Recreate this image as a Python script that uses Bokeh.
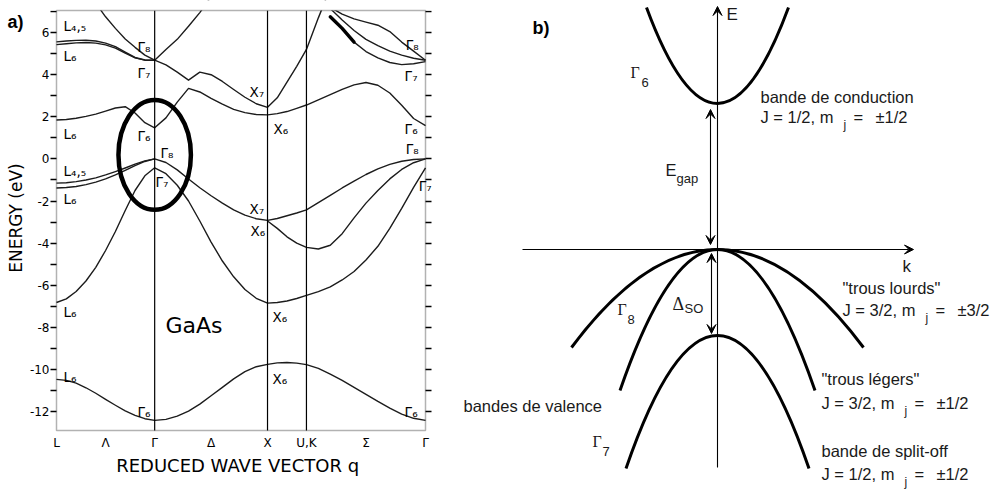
import numpy as np
from bokeh.plotting import figure
from bokeh.layouts import row
from bokeh.models import (Range1d, FixedTicker, LinearAxis, Label, Arrow, VeeHead,
                          BoxAnnotation, CustomJSTickFormatter)
from bokeh.embed import file_html
from bokeh.resources import INLINE

nan = float("nan")

# ---------------- (a) GaAs band structure ----------------
sym_labels = ["L", "Λ", "Γ", "Δ", "X", "U,K", "Σ", "Γ"]
sym_q = [-0.87, -0.435, 0.0, 0.5, 1.0, 1.345, 1.8725, 2.40]
zone_q = [0.0, 1.0, 1.345]
e_ticks = [-12, -10, -8, -6, -4, -2, 0, 2, 4, 6]
e_minor = [-11, -9, -7, -5, -3, -1, 1, 3, 5, 7]
e_min, e_max = -12.9, 7.05          # energy window of the band diagram
seg_points = [11, 11, 5, 11]        # samples along L-Γ, Γ-X, X-U,K, U,K-Γ

# energies (eV) read along L-Γ (11), Γ-X (11), X-U,K (5), U,K-Γ (11)
v1 = [-10.47, -10.52, -10.65, -10.87, -11.13, -11.42, -11.70, -11.97, -12.18, -12.34, -12.42,
      -12.42, -12.37, -12.22, -11.98, -11.65, -11.25, -10.85, -10.45, -10.10, -9.87, -9.76,
      -9.76, -9.69, -9.67, -9.70, -9.77,
      -9.77, -9.95, -10.22, -10.52, -10.85, -11.18, -11.52, -11.84, -12.12, -12.32, -12.42]
v2 = [-6.82, -6.65, -6.30, -5.80, -5.15, -4.35, -3.45, -2.45, -1.50, -0.80, -0.42,
      -0.42, -0.70, -1.25, -2.00, -2.95, -3.95, -4.85, -5.60, -6.20, -6.62, -6.85,
      -6.85, -6.82, -6.75, -6.63, -6.48,
      -6.48, -6.30, -6.08, -5.75, -5.35, -4.80, -4.15, -3.30, -2.35, -1.35, -0.42]
v3 = [-1.15, -1.13, -1.08, -1.00, -0.90, -0.76, -0.60, -0.43, -0.25, -0.09, 0.0,
      0.0, -0.17, -0.52, -0.95, -1.37, -1.75, -2.10, -2.42, -2.67, -2.84, -2.92,
      -2.92, -2.83, -2.70, -2.57, -2.42,
      -2.42, -2.08, -1.73, -1.38, -1.05, -0.74, -0.47, -0.26, -0.11, -0.03, 0.0]
v4 = ([-1.38, -1.36, -1.31, -1.22, -1.10, -0.95, -0.76, -0.54, -0.32, -0.12, 0.0]
      + [nan] * 11
      + [-2.95, -3.30, -3.70, -4.00, -4.20]
      + [-4.20, -4.28, -4.10, -3.55, -2.80, -2.10, -1.50, -0.95, -0.50, -0.18, 0.0])
c1 = [1.85, 1.87, 1.93, 2.02, 2.13, 2.27, 2.42, 2.48, 2.18, 1.72, 1.48,
      1.48, 1.95, 2.70, 3.35, 3.18, 2.88, 2.60, 2.35, 2.20, 2.11, 2.09,
      2.09, 2.15, 2.25, 2.40, 2.56,
      2.56, 2.80, 3.05, 3.30, 3.52, 3.63, 3.50, 3.13, 2.55, 1.92, 1.58]
c2 = ([5.56, 5.60, 5.63, 5.64, 5.60, 5.50, 5.33, 5.07, 4.82, 4.70, 4.69,
       4.69, 4.47, 4.12, 3.74, 4.12, 4.00, 3.68, 3.30, 2.93, 2.62, 2.45,
       2.45, 2.90, 3.65, 4.40, 5.20,
       5.20, 6.70, 8.10] + [nan] * 8)
c2b = [5.43, 5.47, 5.51, 5.53, 5.50, 5.42, 5.26, 5.02, 4.80, 4.69, 4.69] + [nan] * 27
c3 = ([nan] * 4 + [7.40, 6.75, 6.20, 5.70, 5.30, 4.93, 4.69]
      + [4.69, 5.20, 5.68, 6.30, 6.95, 7.70] + [nan] * 5
      + [nan] * 16)
c4a = [nan] * 29 + [7.20, 6.88, 6.65, 6.50, 6.35, 6.05, 5.55, 5.12, 4.69]
c4b = [nan] * 29 + [7.15, 6.60, 6.10, 5.68, 5.38, 5.12, 4.93, 4.78, 4.69]
c4c = [nan] * 29 + [6.75, 6.20, 5.55, 5.10, 4.80, 4.58, 4.48, 4.52, 4.62]
bands = [v1, v2, v3, v4, c1, c2, c2b, c3, c4a, c4b, c4c]

# highlighted region around Γ (ellipse)
hl_q, hl_E, hl_w, hl_h = 0.0, 0.19, 0.642, 5.22

ends = [sym_q[0], sym_q[2], sym_q[4], sym_q[5], sym_q[7]]
q_grid = np.concatenate([np.linspace(ends[i], ends[i + 1], n) for i, n in enumerate(seg_points)])

H = 493
WA = 448
# pixel scale of panel (a): frame box from x=56..425, y=10..430 of the canvas
qpp = (sym_q[-1] - sym_q[0]) / 369.0
epp = (e_max - e_min) / 420.0
xr_a = Range1d(sym_q[0] - 56 * qpp, sym_q[-1] + (WA - 425) * qpp)
yr_a = Range1d(e_min - (H - 430) * epp, e_max + 10 * epp)


def lab(fig, x, y, text, size, font="DejaVu Sans", style="normal", align="left",
        baseline="middle", angle=0.0, color="black", upp=1.0):
    if baseline == "alphabetic":      # place by baseline: shift to the em-box middle
        y = y + 0.35 * size * upp
        baseline = "middle"
    fig.add_layout(Label(x=x, y=y, text=text, text_font=font, text_font_size=f"{size}px",
                         text_font_style=style, text_align=align, text_baseline=baseline,
                         angle=angle, text_color=color))


pa = figure(width=WA, height=H, x_range=xr_a, y_range=yr_a,
            output_backend="svg", toolbar_location=None,
            x_axis_location=None, y_axis_location=None,
            min_border_left=0, min_border_right=0, min_border_top=0, min_border_bottom=0)
pa.title.visible = False
pa.grid.visible = False
pa.outline_line_color = None

for b in bands:
    pa.line(q_grid, b, line_color="#1c1c1c", line_width=1.4, line_join="round")
pa.line(q_grid[29:32], c4c[29:32], line_color="black", line_width=3.4, line_cap="round")
pa.segment(x0=zone_q, y0=[e_min] * 3, x1=zone_q, y1=[e_max] * 3, line_color="black", line_width=1.2)
pa.ellipse(x=[hl_q], y=[hl_E], width=[hl_w], height=[hl_h], fill_color=None,
           line_color="black", line_width=4.5)

# white mask above the energy window, then the frame box
pa.add_layout(BoxAnnotation(bottom=e_max, top=e_max + 5, left=sym_q[0] - 1, right=sym_q[-1] + 1,
                            fill_color="white", fill_alpha=1.0, line_color=None))
pa.add_layout(BoxAnnotation(left=sym_q[0], right=sym_q[-1], bottom=e_min, top=e_max,
                            fill_color=None, line_color="black", line_width=1.5))

ya = LinearAxis(fixed_location=sym_q[0],
                ticker=FixedTicker(ticks=e_ticks, minor_ticks=e_minor),
                formatter=CustomJSTickFormatter(code="return String(tick);"),
                axis_line_color=None, major_tick_out=6, major_tick_in=0,
                minor_tick_out=6, minor_tick_in=0,
                major_tick_line_width=1.3, minor_tick_line_width=1.3,
                major_label_standoff=1, major_label_text_font="DejaVu Sans",
                major_label_text_font_size="12px", major_label_text_color="black")
pa.add_layout(ya, "left")
ra = LinearAxis(fixed_location=sym_q[-1],
                ticker=FixedTicker(ticks=e_ticks, minor_ticks=e_minor),
                formatter=CustomJSTickFormatter(code="return '';"),
                axis_line_color=None, major_tick_out=6, major_tick_in=0,
                minor_tick_out=6, minor_tick_in=0,
                major_tick_line_width=1.3, minor_tick_line_width=1.3,
                major_label_text_font_size="0px")
pa.add_layout(ra, "right")
xa = LinearAxis(fixed_location=e_min, ticker=FixedTicker(ticks=sym_q),
                formatter=CustomJSTickFormatter(args=dict(qs=sym_q, labs=sym_labels), code="""
let b = 0, d = 1e9;
for (let i = 0; i < qs.length; i++) { const dd = Math.abs(qs[i] - tick); if (dd < d) { d = dd; b = i; } }
return labs[b];
"""),
                axis_line_color=None, major_tick_out=0, major_tick_in=0,
                minor_tick_out=0, minor_tick_in=0, major_label_standoff=5,
                major_label_text_font="DejaVu Sans", major_label_text_font_size="12px",
                major_label_text_color="black")
pa.add_layout(xa, "below")

a_labels = [
    (-0.808, 6.33, "L₄,₅"), (-0.808, 4.87, "L₆"), (-0.152, 5.33, "Γ₈"), (-0.152, 4.10, "Γ₇"),
    (-0.808, 1.20, "L₆"), (-0.152, 1.11, "Γ₆"), (0.052, 0.30, "Γ₈"), (-0.808, -0.55, "L₄,₅"),
    (0.008, -1.11, "Γ₇"), (-0.808, -1.89, "L₆"), (-0.808, -7.25, "L₆"), (-0.808, -10.34, "L₆"),
    (-0.152, -12.0, "Γ₆"), (0.841, 3.20, "X₇"), (1.054, 1.44, "X₆"), (0.841, -2.36, "X₇"),
    (0.850, -3.40, "X₆"), (1.045, -7.49, "X₆"), (1.045, -10.43, "X₆"), (2.215, -12.0, "Γ₆"),
    (2.224, 5.43, "Γ₈"), (2.215, 3.96, "Γ₇"), (2.215, 1.44, "Γ₆"), (2.224, 0.49, "Γ₈"),
    (2.34, -1.27, "Γ₇"),
]
for x, y, t in a_labels:
    lab(pa, x, y, t, 13.5)
lab(pa, 0.096, -8.3, "GaAs", 22, baseline="alphabetic", upp=epp)
lab(pa, -1.304, 6.195, "a)", 18, font="Liberation Sans", style="bold", baseline="alphabetic", upp=epp)
lab(pa, -1.225, -2.81, "ENERGY (eV)", 17, align="center", angle=np.pi / 2)
lab(pa, 0.735, -14.85, "REDUCED WAVE VECTOR q", 18, align="center", baseline="alphabetic", upp=epp)

# ---------------- (b) schematic bands near Γ ----------------
b_names = ["conduction", "heavy holes", "light holes", "split-off"]
b_vertex = [146, 0, 0, -86]        # band edge at k = 0 (schematic units)
b_half_k = [71, 146, 97.5, 91.5]   # k extent of each drawn branch
b_end = [242, -98, -141, -219]     # energy at the end of each branch

pb = figure(width=549, height=H, x_range=Range1d(-269, 280), y_range=Range1d(-244, 249),
            output_backend="svg", toolbar_location=None,
            x_axis_location=None, y_axis_location=None,
            min_border_left=0, min_border_right=0, min_border_top=0, min_border_bottom=0)
pb.title.visible = False
pb.grid.visible = False
pb.outline_line_color = None

qx0, qy0, qx1, qy1, qcx, qcy = [], [], [], [], [], []
for v, k, e in zip(b_vertex, b_half_k, b_end):
    for s in (-1, 1):
        qx0.append(0); qy0.append(v); qx1.append(s * k); qy1.append(e)
        qcx.append(s * k / 2); qcy.append(v)
pb.quadratic(x0=qx0, y0=qy0, x1=qx1, y1=qy1, cx=qcx, cy=qcy, line_color="black", line_width=3)


def arrow(x0, y0, x1, y1, both=False):
    head = dict(size=9, fill_color="black", line_color="black", line_width=1)
    pb.add_layout(Arrow(x_start=x0, y_start=y0, x_end=x1, y_end=y1, line_width=1.1,
                        line_color="black", end=VeeHead(**head),
                        start=VeeHead(**head) if both else None))


arrow(0, -218, 0, 243)            # E axis
arrow(-195, 0, 196, 0)            # k axis
arrow(-7, 5, -7, b_vertex[0] - 6, both=True)   # E_gap
arrow(-6, -4, -6, b_vertex[3] + 2, both=True)  # Δ_SO

TXT = "#1a1a1a"
lab(pb, -185, 215, "b)", 18, font="Liberation Sans", style="bold", baseline="alphabetic")
lab(pb, 9, 229, "E", 17, font="Liberation Sans", baseline="alphabetic", color=TXT)
lab(pb, 185, -23, "k", 17, font="Liberation Sans", baseline="alphabetic", color=TXT)
lab(pb, -87, 171, "Γ", 16, font="Liberation Serif", baseline="alphabetic", color=TXT)
lab(pb, -76, 162, "6", 13, font="Liberation Sans", baseline="alphabetic", color=TXT)
lab(pb, -52, 74, "E", 16.5, font="Liberation Sans", baseline="alphabetic", color=TXT)
lab(pb, -41, 66, "gap", 13, font="Liberation Sans", baseline="alphabetic", color=TXT)
lab(pb, -45, -61, "Δ", 18, font="Liberation Serif", baseline="alphabetic", color=TXT)
lab(pb, -33, -64, "SO", 13, font="Liberation Sans", baseline="alphabetic", color=TXT)
lab(pb, -100, -66, "Γ", 16, font="Liberation Serif", baseline="alphabetic", color=TXT)
lab(pb, -90, -75, "8", 13, font="Liberation Sans", baseline="alphabetic", color=TXT)
lab(pb, -125, -198, "Γ", 16, font="Liberation Serif", baseline="alphabetic", color=TXT)
lab(pb, -115, -207, "7", 13, font="Liberation Sans", baseline="alphabetic", color=TXT)
lab(pb, -254, -162.5, "bandes de valence", 16.5, font="Liberation Sans", baseline="alphabetic", color=TXT)

band_text = [
    (43, 147, "bande de conduction", 127, "J = 1/2, m", "±1/2"),
    (125, -44, "\"trous lourds\"", -66, "J = 3/2, m", "±3/2"),
    (104, -135, "\"trous légers\"", -159, "J = 3/2, m", "±1/2"),
    (104, -207, "bande de split-off", -230, "J = 1/2, m", "±1/2"),
]
for x, y1, t1, y2, tj, tm in band_text:
    lab(pb, x, y1, t1, 16.5, font="Liberation Sans", baseline="alphabetic", color=TXT)
    lab(pb, x, y2, tj, 16.5, font="Liberation Sans", baseline="alphabetic", color=TXT)
    lab(pb, x + 83, y2 - 7, "j", 12, font="Liberation Sans", baseline="alphabetic", color=TXT)
    lab(pb, x + 93, y2, "=", 16.5, font="Liberation Sans", baseline="alphabetic", color=TXT)
    lab(pb, x + 115, y2, tm, 16.5, font="Liberation Sans", baseline="alphabetic", color=TXT)

layout = row(pa, pb)
open("out.html", "w").write(file_html(layout, INLINE))
